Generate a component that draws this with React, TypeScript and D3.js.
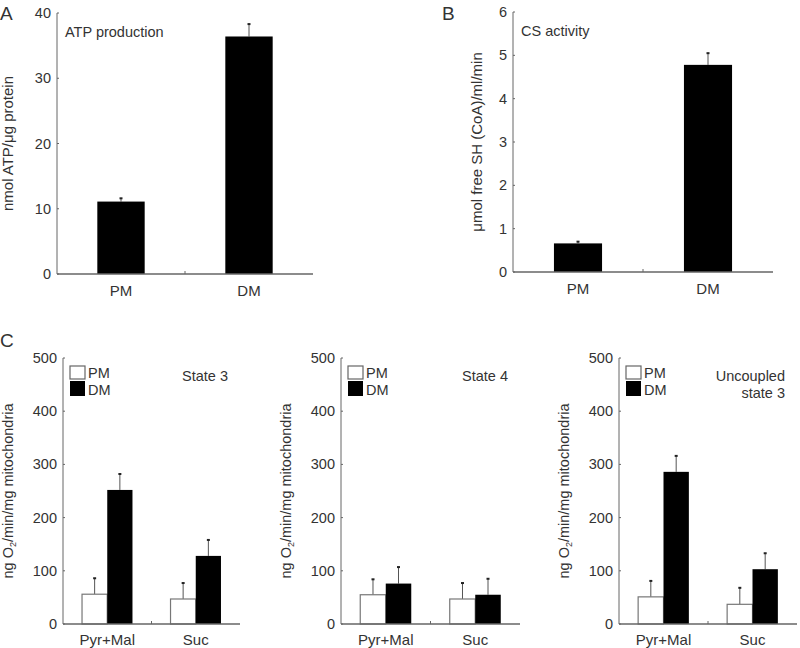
import * as d3 from 'd3';

const FONT = 'Liberation Sans, Arial, sans-serif';
const TEXT = '#333';
const AXIS = '#666';

// A: ATP production
const GROUPS_AB = ['PM', 'DM'];
const ATP_VALUES = [11.1, 36.4];
const ATP_ERR = [0.5, 1.9];
const ATP_TICKS = [0, 10, 20, 30, 40];

// B: CS activity
const CS_VALUES = [0.66, 4.78];
const CS_ERR = [0.04, 0.27];
const CS_TICKS = [0, 1, 2, 3, 4, 5, 6];

// C: oxygen consumption
const SUBSTRATES = ['Pyr+Mal', 'Suc'];
const C_TICKS = [0, 100, 200, 300, 400, 500];
const STATE3_PM = [56, 47];
const STATE3_DM = [252, 128];
const STATE3_PM_ERR = [30, 30];
const STATE3_DM_ERR = [30, 30];
const STATE4_PM = [55, 47];
const STATE4_DM = [76, 55];
const STATE4_PM_ERR = [29, 30];
const STATE4_DM_ERR = [31, 30];
const UNC_PM = [51, 37];
const UNC_DM = [286, 103];
const UNC_PM_ERR = [30, 31];
const UNC_DM_ERR = [30, 30];

type Box = { x0: number; x1: number; yTop: number; yBottom: number; max: number };

const ErrorBar = ({ x, y0, y1 }: { x: number; y0: number; y1: number }) => (
    <g>
        <line x1={x} x2={x} y1={y0} y2={y1} stroke="#555" strokeWidth={1} />
        <line x1={x - 1.5} x2={x + 1.5} y1={y1} y2={y1} stroke="#222" strokeWidth={2} />
    </g>
);

const YAxis = ({ box, ticks, label, labelSize }: { box: Box; ticks: number[]; label: any; labelSize: number }) => {
    const yScale = d3.scaleLinear().domain([0, box.max]).range([box.yBottom, box.yTop]);
    const midY = (box.yTop + box.yBottom) / 2;
    return (
        <g>
            <line x1={box.x0} x2={box.x0} y1={box.yTop} y2={box.yBottom} stroke={AXIS} />
            {ticks.map((t, i) => (
                <g key={i}>
                    <line x1={box.x0} x2={box.x0 + 2} y1={yScale(t)} y2={yScale(t)} stroke={AXIS} />
                    <text
                        x={box.x0 - 6}
                        y={yScale(t)}
                        textAnchor="end"
                        dominantBaseline="central"
                        fontSize={14.5}
                        fill={TEXT}
                    >
                        {t}
                    </text>
                </g>
            ))}
            <text
                transform={`translate(${box.x0 - (box.max >= 100 ? 50 : box.max >= 10 ? 44 : 31)},${midY}) rotate(-90)`}
                textAnchor="middle"
                fontSize={labelSize}
                fill={TEXT}
            >
                {label}
            </text>
        </g>
    );
};

const SinglePanel = ({ box, values, errs, ticks, label, title }: any) => {
    const xScale = d3.scaleBand().domain(GROUPS_AB).range([box.x0, box.x1]).paddingInner(0).paddingOuter(0);
    const yScale = d3.scaleLinear().domain([0, box.max]).range([box.yBottom, box.yTop]);
    const bw = xScale.bandwidth() * 0.37;
    return (
        <g fontFamily={FONT}>
            <YAxis box={box} ticks={ticks} label={label} labelSize={15} />
            {GROUPS_AB.map((g, i) => {
                const cx = (xScale(g) ?? 0) + xScale.bandwidth() / 2;
                return (
                    <g key={g}>
                        <ErrorBar x={cx} y0={yScale(values[i])} y1={yScale(values[i] + errs[i])} />
                        <rect
                            x={cx - bw / 2}
                            y={yScale(values[i])}
                            width={bw}
                            height={box.yBottom - yScale(values[i])}
                            fill="#000"
                        />
                        <text x={cx} y={box.yBottom + 22} textAnchor="middle" fontSize={15} fill={TEXT}>
                            {g}
                        </text>
                    </g>
                );
            })}
            <line x1={box.x0} x2={box.x1} y1={box.yBottom} y2={box.yBottom} stroke={AXIS} strokeWidth={1.5} />
            <line
                x1={xScale('DM')}
                x2={xScale('DM')}
                y1={box.yBottom}
                y2={box.yBottom - 3}
                stroke={AXIS}
            />
            <text x={box.x0 + 8} y={box.yTop + 24} fontSize={14.5} fill={TEXT}>
                {title}
            </text>
        </g>
    );
};

const O2Label = (
    <>
        ng O<tspan fontSize={9} dy={3}>2</tspan>
        <tspan dy={-3}>/min/mg mitochondria</tspan>
    </>
);

const GroupPanel = ({ box, pm, dm, pmErr, dmErr, titleLines }: any) => {
    const xScale = d3.scaleBand().domain(SUBSTRATES).range([box.x0, box.x1]);
    const yScale = d3.scaleLinear().domain([0, box.max]).range([box.yBottom, box.yTop]);
    const bw = xScale.bandwidth() * 0.285;
    return (
        <g fontFamily={FONT}>
            <YAxis box={box} ticks={C_TICKS} label={O2Label} labelSize={14.5} />
            {SUBSTRATES.map((s, i) => {
                const cx = (xScale(s) ?? 0) + xScale.bandwidth() / 2;
                return (
                    <g key={s}>
                        <ErrorBar x={cx - bw / 2} y0={yScale(pm[i])} y1={yScale(pm[i] + pmErr[i])} />
                        <ErrorBar x={cx + bw / 2} y0={yScale(dm[i])} y1={yScale(dm[i] + dmErr[i])} />
                        <rect
                            x={cx - bw}
                            y={yScale(pm[i])}
                            width={bw}
                            height={box.yBottom - yScale(pm[i])}
                            fill="#fff"
                            stroke="#777"
                            strokeWidth={1.2}
                        />
                        <rect
                            x={cx}
                            y={yScale(dm[i])}
                            width={bw}
                            height={box.yBottom - yScale(dm[i])}
                            fill="#000"
                        />
                        <text x={cx} y={box.yBottom + 21} textAnchor="middle" fontSize={15} fill={TEXT}>
                            {s}
                        </text>
                    </g>
                );
            })}
            <line x1={box.x0} x2={box.x1} y1={box.yBottom} y2={box.yBottom} stroke={AXIS} strokeWidth={1.5} />
            <line
                x1={xScale('Suc')}
                x2={xScale('Suc')}
                y1={box.yBottom}
                y2={box.yBottom - 3}
                stroke={AXIS}
            />
            {/* legend */}
            <rect x={box.x0 + 7} y={box.yTop + 8} width={15} height={13} fill="#fff" stroke="#666" strokeWidth={1.2} />
            <rect x={box.x0 + 7} y={box.yTop + 23} width={15} height={15} fill="#000" />
            <text x={box.x0 + 25} y={box.yTop + 20} fontSize={14.5} fill={TEXT}>PM</text>
            <text x={box.x0 + 25} y={box.yTop + 37} fontSize={14.5} fill={TEXT}>DM</text>
            {titleLines.map((t: string, i: number) => (
                <text
                    key={i}
                    x={box.x1 - 12}
                    y={box.yTop + 23 + i * 17}
                    textAnchor="end"
                    fontSize={14.5}
                    fill={TEXT}
                >
                    {t}
                </text>
            ))}
        </g>
    );
};

export default function App() {
    return (
        <div style={{ position: 'absolute', left: 0, top: 0 }}>
            <svg width={800} height={648} style={{ display: 'block', background: '#fff' }}>
                <text x={0} y={20} fontFamily={FONT} fontSize={19} fill={TEXT}>A</text>
                <text x={442} y={20} fontFamily={FONT} fontSize={19} fill={TEXT}>B</text>
                <text x={0} y={347} fontFamily={FONT} fontSize={19} fill={TEXT}>C</text>
                <SinglePanel
                    box={{ x0: 57, x1: 313, yTop: 13, yBottom: 274, max: 40 }}
                    values={ATP_VALUES}
                    errs={ATP_ERR}
                    ticks={ATP_TICKS}
                    label="nmol ATP/μg protein"
                    title="ATP production"
                />
                <SinglePanel
                    box={{ x0: 513, x1: 773, yTop: 12, yBottom: 272, max: 6 }}
                    values={CS_VALUES}
                    errs={CS_ERR}
                    ticks={CS_TICKS}
                    label="μmol free SH (CoA)/ml/min"
                    title="CS activity"
                />
                <GroupPanel
                    box={{ x0: 63, x1: 240, yTop: 358, yBottom: 624, max: 500 }}
                    pm={STATE3_PM}
                    dm={STATE3_DM}
                    pmErr={STATE3_PM_ERR}
                    dmErr={STATE3_DM_ERR}
                    titleLines={['State 3']}
                />
                <GroupPanel
                    box={{ x0: 341, x1: 520, yTop: 358, yBottom: 624, max: 500 }}
                    pm={STATE4_PM}
                    dm={STATE4_DM}
                    pmErr={STATE4_PM_ERR}
                    dmErr={STATE4_DM_ERR}
                    titleLines={['State 4']}
                />
                <GroupPanel
                    box={{ x0: 619, x1: 797, yTop: 358, yBottom: 624, max: 500 }}
                    pm={UNC_PM}
                    dm={UNC_DM}
                    pmErr={UNC_PM_ERR}
                    dmErr={UNC_DM_ERR}
                    titleLines={['Uncoupled', 'state 3']}
                />
            </svg>
        </div>
    );
}
